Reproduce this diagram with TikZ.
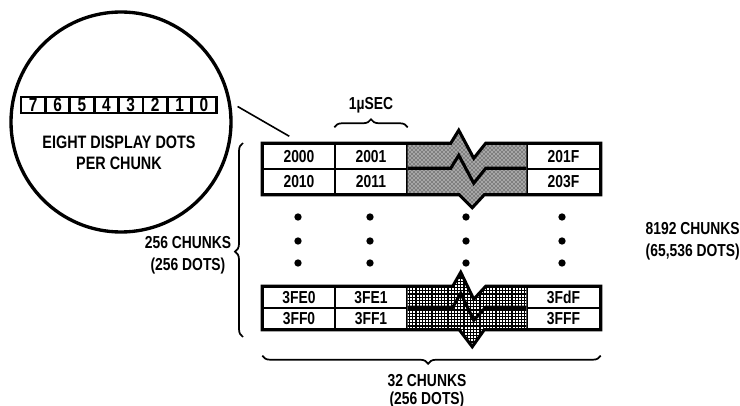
\documentclass[tikz,border=0pt]{standalone}
\usepackage{fontspec}
\newfontfamily\chunkfont{Liberation Sans}[FakeStretch=0.8]
\usetikzlibrary{patterns,decorations.pathreplacing,calc}

% dense grid for the lower break band
\pgfdeclarepatternformonly{finegrid}{\pgfqpoint{-1pt}{-1pt}}{\pgfqpoint{3.4pt}{3.4pt}}{\pgfqpoint{2.4pt}{2.4pt}}{%
  \pgfsetlinewidth{0.9pt}
  \pgfpathmoveto{\pgfqpoint{0pt}{0pt}}\pgfpathlineto{\pgfqpoint{0pt}{2.5pt}}
  \pgfpathmoveto{\pgfqpoint{0pt}{0pt}}\pgfpathlineto{\pgfqpoint{2.5pt}{0pt}}
  \pgfusepath{stroke}}

\begin{document}
\begin{tikzpicture}[x=0.75pt, y=-0.75pt, font=\chunkfont\bfseries\fontsize{13}{16.5}\selectfont, every node/.style={align=center}, leader/.style={line width=1.2pt, draw=black}]

% styles
\tikzset{
  cell/.style={rectangle, draw=black, line width=1.1pt, minimum width=54pt, minimum height=18.75pt, inner sep=0pt},
  lowcell/.style={cell, minimum height=15.75pt},
  lastcell/.style={minimum width=54.75pt},
  bit/.style={rectangle, draw=black, line width=2pt, minimum width=18.3pt, minimum height=12pt, inner sep=0pt, font=\chunkfont\bfseries\fontsize{14.5}{14.5}\selectfont},
  rim/.style={line width=2.3pt, draw=black, line join=miter},
  spot/.style={circle, fill=black, inner sep=0pt, minimum size=5.5pt},
  curly/.style={decorate, decoration={brace, amplitude=6pt}, line width=1.3pt}
}

\useasboundingbox (0,0) rectangle (740,406);

% magnified chunk
\node[draw, circle, line width=2.5pt, minimum size=165pt] (circ) at (121,122) {};
\foreach \b [count=\i from 0] in {7,6,5,4,3,2,1,0}
  \node[bit] (b\b) at (33.2+24.4*\i,105) {\b};
\node[font=\chunkfont\bfseries\fontsize{13.5}{15.75}\selectfont] (eight) at (119,152.5) {EIGHT DISPLAY DOTS\\PER CHUNK};

% first two lines of the screen
\node[cell] (c2000) at (299,156.5) {2000};
\node[cell] (c2001) at (371,156.5) {2001};
\node[cell, lastcell] (c201F) at (563.5,156.5) {201F};
\node[cell] (c2010) at (299,181.5) {2010};
\node[cell] (c2011) at (371,181.5) {2011};
\node[cell, lastcell] (c203F) at (563.5,181.5) {203F};

% break band, upper table
\path[preaction={fill=black!35}, pattern=crosshatch dots] (c2001.north east) -- ++(43,0) -- ++(8,-13) -- ++(15,28) -- ++(12,-15) -- (c201F.north west) -- (c203F.south west) -- ++(-42,0) -- ++(-12,13) -- ++(-13,-13) -- (c2011.south east) -- cycle;
\draw[rim] (c2011.north east) -- ++(43,0) -- ++(8,-13) -- ++(15,28) -- ++(12,-15) -- (c203F.north west);
\draw[rim] (c2000.north west) -- (c2001.north east) -- ++(43,0) -- ++(8,-13) -- ++(15,28) -- ++(12,-15) -- (c201F.north east) -- (c203F.south east) -- (c203F.south west) -- ++(-42,0) -- ++(-12,13) -- ++(-13,-13) -- (c2010.south west) -- cycle;

% last two lines of the screen
\node[lowcell] (c3FE0) at (299,297.5) {3FE0};
\node[lowcell] (c3FE1) at (371,297.5) {3FE1};
\node[lowcell, lastcell] (c3FdF) at (563.5,297.5) {3FdF};
\node[lowcell] (c3FF0) at (299,318.5) {3FF0};
\node[lowcell] (c3FF1) at (371,318.5) {3FF1};
\node[lowcell, lastcell] (c3FFF) at (563.5,318.5) {3FFF};

% break band, lower table
\path[preaction={fill=white}, pattern=finegrid] (c3FE1.north east) -- ++(45,0) -- ++(8,-14) -- ++(13,27) -- ++(12,-13) -- (c3FdF.north west) -- (c3FFF.south west) -- ++(-42,0) -- ++(-12,17) -- ++(-13,-17) -- (c3FF1.south east) -- cycle;
\draw[rim] (c3FF1.north east) -- ++(45,0) -- ++(8,-14) -- ++(13,27) -- ++(12,-13) -- (c3FFF.north west);
\draw[rim] (c3FE0.north west) -- (c3FE1.north east) -- ++(45,0) -- ++(8,-14) -- ++(13,27) -- ++(12,-13) -- (c3FdF.north east) -- (c3FFF.south east) -- (c3FFF.south west) -- ++(-42,0) -- ++(-12,17) -- ++(-13,-17) -- (c3FF0.south west) -- cycle;

% rows left out
\foreach \x in {298,370,466,562}
  \foreach \y in {217,241,263}
    \node[spot] (s\x-\y) at (\x,\y) {};

% braces and their texts
\coordinate (secL) at ($(c2001.north west)+(0,-16)$);
\coordinate (secR) at ($(c2001.north east)+(0,-16)$);
\draw[curly] (secL) -- (secR);
\node (onesec) at (371,105) {1µSEC};

\coordinate (rowB) at (243,337);
\coordinate (rowT) at (243,143);
\draw[curly, decoration={aspect=0.44}] (rowB) -- (rowT);
\node (rows) at (188,255) {256 CHUNKS\\(256 DOTS)};

\coordinate (colR) at ($(c3FFF.south east)+(0,26)$);
\coordinate (colL) at ($(c3FF0.south west)+(0,26)$);
\draw[curly, decoration={aspect=0.51}] (colR) -- (colL);
\node[font=\chunkfont\bfseries\fontsize{13}{13.5}\selectfont] (cols) at (427,391) {32 CHUNKS\\(256 DOTS)};

\node[anchor=west, align=left] (total) at (641,241) {8192 CHUNKS\\(65,536 DOTS)};

% leader from the magnified chunk
\draw[leader] ($(circ.8)+(6,0)$) -- ($(c2000.north west)+(27,-7)$);

\end{tikzpicture}
\end{document}
